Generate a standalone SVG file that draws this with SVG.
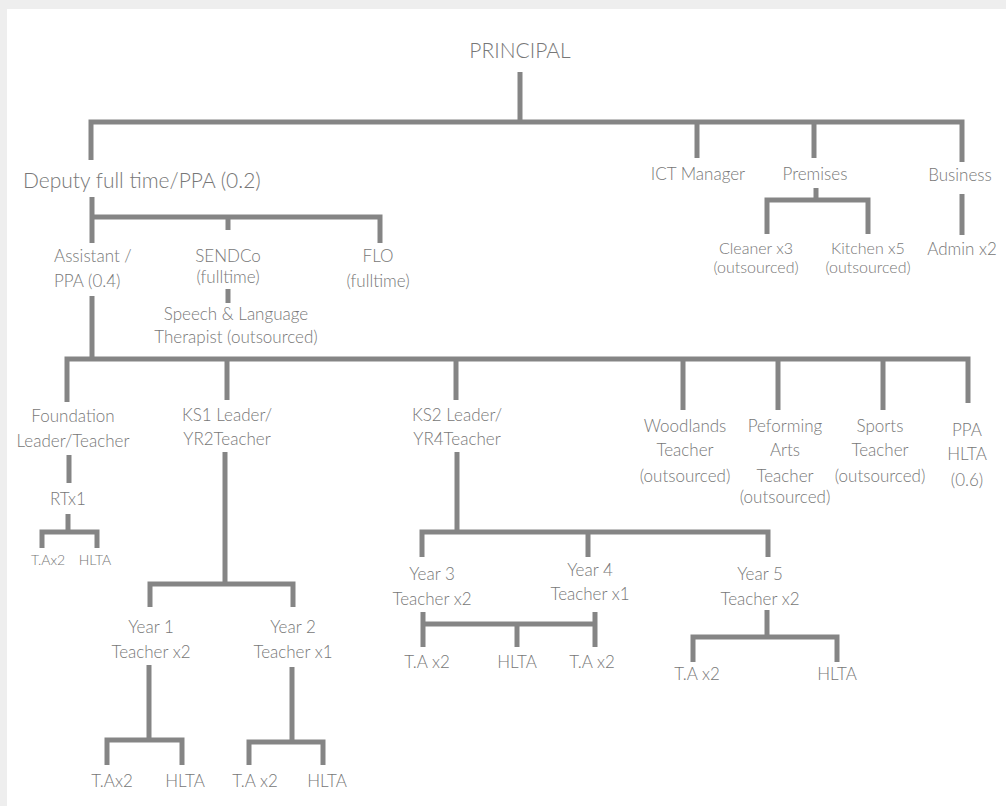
<svg xmlns="http://www.w3.org/2000/svg" width="1006" height="806" viewBox="0 0 1006 806">
<style>
.t{font-family:Lato,"Open Sans","Liberation Sans",sans-serif;font-weight:300;fill:#777;font-size:17px;text-anchor:middle}
.s{font-size:14px}
.m{font-size:16px}
.b{font-size:21px}
.c{fill:none;stroke:#858585;stroke-width:5;stroke-linecap:butt;stroke-linejoin:miter}
</style>
<rect width="1006" height="806" fill="#eeeeee"/>
<rect x="7" y="9" width="999" height="797" fill="#ffffff"/>
<g id="connectors" class="c">
<path d="M520 72V122M91 160V122H962V162M697 122V158M814 122V158"/>
<path d="M816 188V200M767 234V200H868V234"/>
<path d="M962 194V235"/>
<path d="M92 197V243M92 217H380V243M228 217V230"/>
<path d="M228 289V303"/>
<path d="M92 296V359M67 402V359H968V403M227 359V400M456 359V400M683 359V410M778 359V410M883 359V410"/>
<path d="M69 455V483M68 514V532M42 548V532H97V548"/>
<path d="M225 452V584M150 607V584H293V607"/>
<path d="M149 665V740M107 765V740H182V765"/>
<path d="M292 667V742M249 765V742H323V765"/>
<path d="M457 452V532M422 557V532H768V557M588 532V557"/>
<path d="M423 612V647M595 612V647M423 624H595M517 624V647"/>
<path d="M767 610V637M693 662V637H837V662"/>
</g>
<g id="principal"><text class="t b" x="520" y="58">PRINCIPAL</text></g>
<g id="deputy"><text class="t b" x="23" y="188" style="text-anchor:start">Deputy full time/PPA (0.2)</text></g>
<g id="ict"><text class="t" x="698" y="180">ICT Manager</text></g>
<g id="premises"><text class="t" x="815" y="180">Premises</text></g>
<g id="business"><text class="t" x="960" y="181">Business</text></g>
<g id="cleaner"><text class="t m" x="756" y="254">Cleaner x3</text><text class="t m" x="756" y="273">(outsourced)</text></g>
<g id="kitchen"><text class="t m" x="868" y="254">Kitchen x5</text><text class="t m" x="868" y="273">(outsourced)</text></g>
<g id="admin"><text class="t" x="962" y="255">Admin x2</text></g>
<g id="assistant"><text class="t" x="54" y="262" style="text-anchor:start">Assistant /</text><text class="t" x="54" y="287" style="text-anchor:start">PPA (0.4)</text></g>
<g id="sendco"><text class="t" x="228" y="262">SENDCo</text><text class="t" x="228" y="283">(fulltime)</text></g>
<g id="flo"><text class="t" x="378" y="262">FLO</text><text class="t" x="378" y="287">(fulltime)</text></g>
<g id="speech"><text class="t" x="236" y="320">Speech &amp; Language</text><text class="t" x="236" y="343">Therapist (outsourced)</text></g>
<g id="foundation"><text class="t" x="73" y="422">Foundation</text><text class="t" x="73" y="447">Leader/Teacher</text></g>
<g id="ks1"><text class="t" x="227" y="421">KS1 Leader/</text><text class="t" x="227" y="445">YR2Teacher</text></g>
<g id="ks2"><text class="t" x="457" y="421">KS2 Leader/</text><text class="t" x="457" y="445">YR4Teacher</text></g>
<g id="woodlands"><text class="t" x="685" y="432">Woodlands</text><text class="t" x="685" y="456">Teacher</text><text class="t" x="685" y="482">(outsourced)</text></g>
<g id="performing"><text class="t" x="785" y="432">Peforming</text><text class="t" x="785" y="456">Arts</text><text class="t" x="785" y="482">Teacher</text><text class="t" x="785" y="503">(outsourced)</text></g>
<g id="sports"><text class="t" x="880" y="432">Sports</text><text class="t" x="880" y="456">Teacher</text><text class="t" x="880" y="482">(outsourced)</text></g>
<g id="ppahlta"><text class="t" x="967" y="436">PPA</text><text class="t" x="967" y="460">HLTA</text><text class="t" x="967" y="486">(0.6)</text></g>
<g id="rtx1"><text class="t" x="68" y="505">RTx1</text></g>
<g id="f-ta"><text class="t s" x="48" y="565">T.Ax2</text></g>
<g id="f-hlta"><text class="t s" x="95" y="565">HLTA</text></g>
<g id="year1"><text class="t" x="151" y="633">Year 1</text><text class="t" x="151" y="658">Teacher x2</text></g>
<g id="year2"><text class="t" x="293" y="633">Year 2</text><text class="t" x="293" y="658">Teacher x1</text></g>
<g id="y1-ta"><text class="t" x="112" y="787">T.Ax2</text></g>
<g id="y1-hlta"><text class="t" x="185" y="787">HLTA</text></g>
<g id="y2-ta"><text class="t" x="255" y="787">T.A x2</text></g>
<g id="y2-hlta"><text class="t" x="327" y="787">HLTA</text></g>
<g id="year3"><text class="t" x="432" y="580">Year 3</text><text class="t" x="432" y="605">Teacher x2</text></g>
<g id="year4"><text class="t" x="590" y="576">Year 4</text><text class="t" x="590" y="600">Teacher x1</text></g>
<g id="year5"><text class="t" x="760" y="580">Year 5</text><text class="t" x="760" y="605">Teacher x2</text></g>
<g id="y3-ta"><text class="t" x="427" y="668">T.A x2</text></g>
<g id="y34-hlta"><text class="t" x="517" y="668">HLTA</text></g>
<g id="y4-ta"><text class="t" x="592" y="668">T.A x2</text></g>
<g id="y5-ta"><text class="t" x="697" y="680">T.A x2</text></g>
<g id="y5-hlta"><text class="t" x="837" y="680">HLTA</text></g>
</svg>
